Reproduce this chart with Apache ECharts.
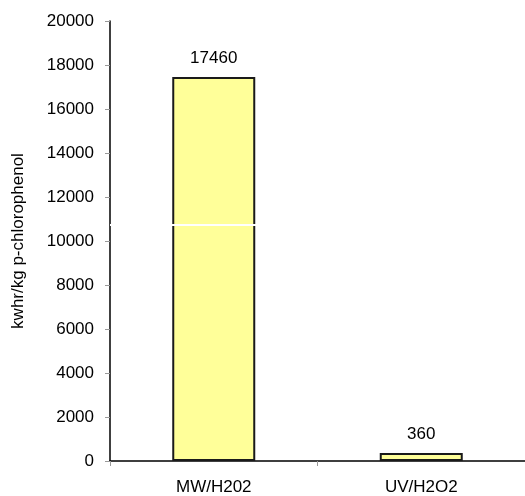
<!DOCTYPE html>
<html>
<head>
<meta charset="utf-8">
<script src="https://cdn.jsdelivr.net/npm/echarts@6/dist/echarts.min.js"></script>
<style>
  html, body { margin: 0; padding: 0; background: #fff; }
  #chart { width: 525px; height: 496px; }
</style>
</head>
<body>
<div id="chart"></div>
<script>
// Energy demand per kg of p-chlorophenol for two oxidation processes
const categories = ['MW/H202', 'UV/H2O2'];
const energyValues = [17460, 360];
const yTicks = { min: 0, max: 20000, interval: 2000 };
// Value where the scale is shown as broken
const breakValue = 10750;

const FONT = 'Liberation Sans, Arial, sans-serif';

const chart = echarts.init(document.getElementById('chart'), null, { renderer: 'canvas' });
chart.setOption({
  animation: false,
  backgroundColor: '#ffffff',
  grid: { left: 110, top: 21, right: 0, bottom: 35, containLabel: false },
  xAxis: {
    type: 'category',
    data: categories,
    boundaryGap: true,
    axisLine: { show: true, lineStyle: { color: '#000', width: 1.5 } },
    axisTick: { show: true, length: 5, alignWithLabel: false, lineStyle: { color: '#999', width: 1 } },
    axisLabel: { color: '#000', fontFamily: FONT, fontSize: 17, margin: 18 }
  },
  yAxis: {
    type: 'value',
    min: yTicks.min,
    max: yTicks.max,
    interval: yTicks.interval,
    name: 'kwhr/kg p-chlorophenol',
    nameLocation: 'middle',
    nameGap: 83,
    nameTextStyle: { color: '#000', fontFamily: FONT, fontSize: 17 },
    axisLine: { show: true, lineStyle: { color: '#000', width: 1.5 } },
    axisTick: { show: true, length: 5, lineStyle: { color: '#999', width: 1 } },
    axisLabel: {
      color: '#000', fontFamily: FONT, fontSize: 17, margin: 16,
      formatter: (v) => String(v)
    },
    splitLine: { show: false }
  },
  series: [{
    type: 'bar',
    data: energyValues,
    barWidth: '40%',
    itemStyle: { color: '#ffff99', borderColor: '#1a1a1a', borderWidth: 2 },
    label: {
      show: true,
      position: 'top',
      distance: 10,
      color: '#000',
      fontFamily: FONT,
      fontSize: 17
    },
    markLine: {
      silent: true,
      symbol: 'none',
      label: { show: false },
      lineStyle: { color: '#ffffff', width: 2, type: 'solid' },
      data: [{ yAxis: breakValue }],
      z: 10
    }
  }]
});
</script>
</body>
</html>
